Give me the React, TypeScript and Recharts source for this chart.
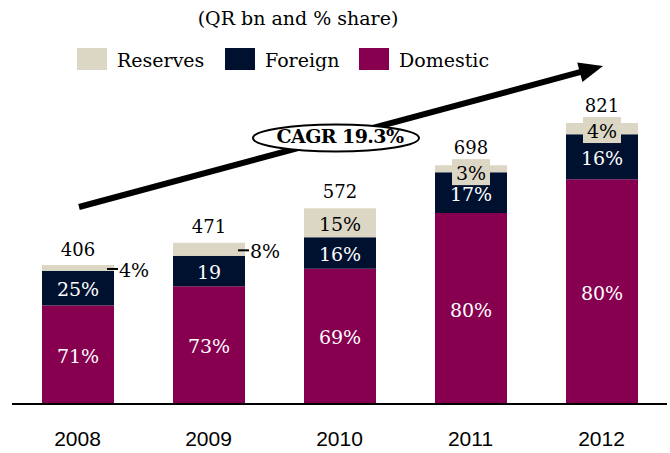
import * as React from 'react';
import { BarChart, Bar, XAxis, YAxis, LabelList, Customized } from 'recharts';

const years = ['2008', '2009', '2010', '2011', '2012'];
const domestic = [288, 344, 395, 558, 657];
const foreign = [101, 89, 92, 119, 131];
const reserves = [17, 38, 85, 21, 33];
const totals = [406, 471, 572, 698, 821];
const domesticPct = ['71%', '73%', '69%', '80%', '80%'];
const foreignPct = ['25%', '19', '16%', '17%', '16%'];
const reservesPct = ['4%', '8%', '15%', '3%', '4%'];

const title = '(QR bn and % share)';
const cagrLabel = 'CAGR 19.3%';

const COLORS = {
  reserves: '#DCD7C5',
  foreign: '#00112F',
  domestic: '#870050',
};

const SERIF = '"DejaVu Serif", serif';
const SANS = '"Liberation Sans", Arial, sans-serif';

// reserve labels that sit outside the bar with a small leader
const leaderYears = new Set(['2008', '2009']);

const data = years.map((year, i) => ({
  year,
  domestic: domestic[i],
  foreign: foreign[i],
  reserves: reserves[i],
}));

function InsideLabel(props: any) {
  const { x, y, width, height, index, labels, textColor } = props;
  return (
    <text
      x={x + width / 2}
      y={y + height / 2 + 1}
      textAnchor="middle"
      dominantBaseline="central"
      fill={textColor}
      fontFamily={SERIF}
      fontSize={19}
    >
      {labels[index]}
    </text>
  );
}

function ReservesLabel(props: any) {
  const { x, y, width, height, index } = props;
  const cx = x + width / 2;
  const year = years[index];
  let top = y;
  let pct: React.ReactNode;

  if (height >= 22) {
    pct = (
      <text x={cx} y={y + height / 2 + 1} textAnchor="middle" dominantBaseline="central"
        fill="#000" fontFamily={SERIF} fontSize={19}>
        {reservesPct[index]}
      </text>
    );
    top = y - 1;
  } else if (leaderYears.has(year)) {
    const my = y + height / 2;
    const right = x + width;
    pct = (
      <g>
        <line x1={right - 7} x2={right + 4} y1={my + 1} y2={my + 1} stroke="#000" strokeWidth={2} />
        <text x={right + 5} y={my + 2} textAnchor="start" dominantBaseline="central"
          fill="#000" fontFamily={SERIF} fontSize={19}>
          {reservesPct[index]}
        </text>
      </g>
    );
  } else {
    const bc = y + 7;
    top = bc - 13 + 4;
    pct = (
      <g>
        <rect x={cx - 19} y={bc - 13} width={38} height={26} fill={COLORS.reserves} />
        <text x={cx} y={bc + 1} textAnchor="middle" dominantBaseline="central"
          fill="#000" fontFamily={SERIF} fontSize={19}>
          {reservesPct[index]}
        </text>
      </g>
    );
  }

  return (
    <g>
      {pct}
      <text x={cx} y={top - 16} textAnchor="middle" dominantBaseline="central"
        fill="#000" fontFamily={SERIF} fontSize={18}>
        {totals[index]}
      </text>
    </g>
  );
}

function YearTick(props: any) {
  const { x, payload } = props;
  return (
    <text x={x} y={438} textAnchor="middle" dominantBaseline="central"
      fill="#000" fontFamily={SANS} fontSize={21}>
      {payload.value}
    </text>
  );
}

function Overlay() {
  const legend = [
    { name: 'Reserves', color: COLORS.reserves, x: 77 },
    { name: 'Foreign', color: COLORS.foreign, x: 225 },
    { name: 'Domestic', color: COLORS.domestic, x: 359 },
  ];
  // growth arrow
  const x1 = 79, y1 = 207, tx = 603, ty = 66;
  const dx = tx - x1, dy = ty - y1;
  const len = Math.sqrt(dx * dx + dy * dy);
  const ux = dx / len, uy = dy / len;
  const nx = -uy, ny = ux;
  const headLen = 24, headW = 10;
  const bx = tx - ux * headLen, by = ty - uy * headLen;
  const head = `${tx},${ty} ${bx + nx * headW},${by + ny * headW} ${bx - nx * headW},${by - ny * headW}`;

  return (
    <g>
      <text x={298} y={18} textAnchor="middle" dominantBaseline="central"
        fill="#000" fontFamily={SERIF} fontSize={19}>
        {title}
      </text>
      {legend.map((l) => (
        <g key={l.name}>
          <rect x={l.x} y={48} width={30} height={22} fill={l.color} />
          <text x={l.x + 40} y={60} dominantBaseline="central" fill="#000"
            fontFamily={SERIF} fontSize={19}>
            {l.name}
          </text>
        </g>
      ))}
      <line x1={x1} y1={y1} x2={bx + ux * 2} y2={by + uy * 2} stroke="#000" strokeWidth={6} />
      <polygon points={head} fill="#000" />
      <ellipse cx={336} cy={138} rx={83} ry={13.5} fill="#fff" stroke="#000" strokeWidth={2} />
      <text x={340} y={136} textAnchor="middle" dominantBaseline="central" fill="#000"
        fontFamily={SERIF} fontWeight="bold" fontSize={19} letterSpacing={-0.6}>
        {cagrLabel}
      </text>
    </g>
  );
}

export default function App() {
  return (
    <div style={{ position: 'absolute', left: 0, top: 0, background: '#fff' }}>
      <BarChart
        width={670}
        height={453}
        data={data}
        margin={{ top: 96, right: 3, left: 12, bottom: 0 }}
        barSize={72}
      >
        <XAxis
          dataKey="year"
          height={49}
          axisLine={{ stroke: '#000', strokeWidth: 2 }}
          tickLine={false}
          tick={<YearTick />}
          interval={0}
        />
        <YAxis hide domain={[0, 900]} />
        <Bar dataKey="domestic" stackId="a" fill={COLORS.domestic} isAnimationActive={false}>
          <LabelList dataKey="domestic" content={<InsideLabel labels={domesticPct} textColor="#fff" />} />
        </Bar>
        <Bar dataKey="foreign" stackId="a" fill={COLORS.foreign} isAnimationActive={false}>
          <LabelList dataKey="foreign" content={<InsideLabel labels={foreignPct} textColor="#fff" />} />
        </Bar>
        <Bar dataKey="reserves" stackId="a" fill={COLORS.reserves} isAnimationActive={false}>
          <LabelList dataKey="reserves" content={<ReservesLabel />} />
        </Bar>
        <Customized component={Overlay} />
      </BarChart>
    </div>
  );
}
